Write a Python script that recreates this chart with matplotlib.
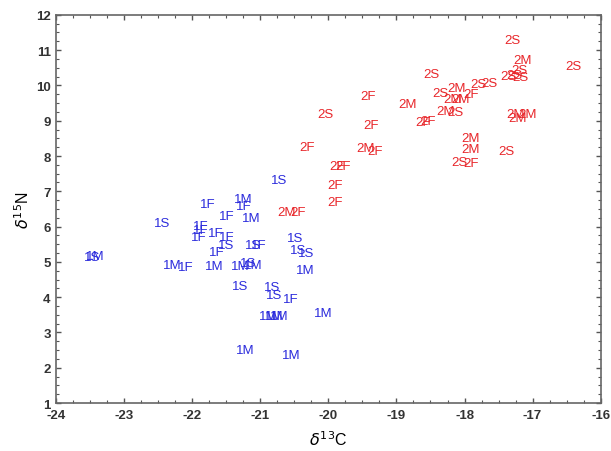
import matplotlib.pyplot as plt
from matplotlib.ticker import MultipleLocator

plt.rcParams['font.family'] = ['Liberation Sans', 'DejaVu Sans']
plt.rcParams['axes.unicode_minus'] = False

# group 1 samples (labels, delta13C, delta15N)
labels_1 = ['1S', '1M', '1F', '1F', '1F', '1M', '1S',
            '1F', '1F', '1F', '1F', '1F', '1S', '1F',
            '1S', '1F', '1S', '1S', '1S', '1M',
            '1S', '1M', '1M', '1F', '1M', '1M', '1S', '1M',
            '1S', '1S', '1S', '1F', '1M', '1M', '1M', '1M',
            '1M', '1M']
d13c_1 = [-20.73, -21.25, -21.25, -21.78, -21.49, -21.14, -22.45,
          -21.88, -21.88, -21.90, -21.65, -21.49, -21.50, -21.64,
          -21.10, -21.03, -20.49, -20.45, -20.32, -20.34,
          -23.47, -23.42, -22.30, -22.10, -21.68, -21.29, -21.18, -21.10,
          -21.29, -20.83, -20.80, -20.56, -20.88, -20.80, -20.72, -20.07,
          -21.22, -20.54]
d15n_1 = [7.32, 6.78, 6.58, 6.64, 6.31, 6.25, 6.10,
          6.03, 5.89, 5.70, 5.82, 5.70, 5.48, 5.27,
          5.48, 5.48, 5.68, 5.34, 5.25, 4.77,
          5.14, 5.18, 4.91, 4.85, 4.89, 4.88, 4.97, 4.91,
          4.33, 4.28, 4.07, 3.95, 3.47, 3.47, 3.47, 3.54,
          2.50, 2.36]

# group 2 samples
labels_2 = ['2M', '2F', '2F', '2F', '2F', '2F',
            '2F', '2M', '2S', '2F', '2F', '2F',
            '2F', '2M', '2F', '2M', '2M', '2S', '2F', '2S',
            '2M', '2M', '2M', '2M', '2S',
            '2M', '2M', '2S', '2M', '2F',
            '2S', '2M', '2S', '2S', '2S', '2S', '2S',
            '2S', '2S', '2S']
d13c_2 = [-20.61, -20.44, -19.87, -19.78, -19.90, -19.90,
          -19.41, -18.84, -20.04, -19.38, -18.61, -18.54,
          -20.31, -19.46, -19.32, -17.91, -17.91, -18.08, -17.91, -17.38,
          -17.25, -17.22, -17.08, -18.28, -18.13,
          -18.18, -18.06, -18.35, -18.11, -17.91,
          -17.29, -17.15, -17.19, -17.35, -17.26, -17.18, -16.40,
          -18.49, -17.79, -17.63]
d15n_2 = [6.41, 6.42, 7.73, 7.73, 7.19, 6.69,
          9.70, 9.48, 9.19, 8.88, 8.97, 9.00,
          8.25, 8.22, 8.15, 8.51, 8.20, 7.82, 7.80, 8.13,
          9.19, 9.08, 9.19, 9.27, 9.24,
          9.62, 9.62, 9.78, 9.92, 9.76,
          11.29, 10.71, 10.44, 10.26, 10.30, 10.23, 10.55,
          10.31, 10.05, 10.07]

fig, ax = plt.subplots(figsize=(6.11, 4.52), dpi=100)
fig.subplots_adjust(left=0.092, right=0.983, bottom=0.106, top=0.965)

for lab, x, y in zip(labels_1, d13c_1, d15n_1):
    ax.text(x, y, lab, color='#2b2bdc', fontsize=9.5, ha='center', va='center')
for lab, x, y in zip(labels_2, d13c_2, d15n_2):
    ax.text(x, y, lab, color='#e8262a', fontsize=9.5, ha='center', va='center')

ax.set_xlim(-24, -16)
ax.set_ylim(1, 12)
ax.xaxis.set_major_locator(MultipleLocator(1))
ax.xaxis.set_minor_locator(MultipleLocator(0.25))
ax.yaxis.set_major_locator(MultipleLocator(1))
ax.yaxis.set_minor_locator(MultipleLocator(0.25))
ax.tick_params(which='both', direction='in', top=True, right=True,
               color='#555555', labelsize=9.5, labelcolor='#333333')
ax.tick_params(which='major', length=3.5, width=1, pad=4)
ax.tick_params(which='minor', length=2, width=0.8)
for lbl in ax.get_xticklabels() + ax.get_yticklabels():
    lbl.set_fontweight('bold')
for sp in ax.spines.values():
    sp.set_color('#666666')
    sp.set_linewidth(1.2)

ax.set_xlabel(r'$\delta^{13}$C', fontsize=11.5, labelpad=6)
ax.set_ylabel(r'$\delta^{15}$N', fontsize=11.5, labelpad=3)

plt.savefig('out.png', dpi=100)
